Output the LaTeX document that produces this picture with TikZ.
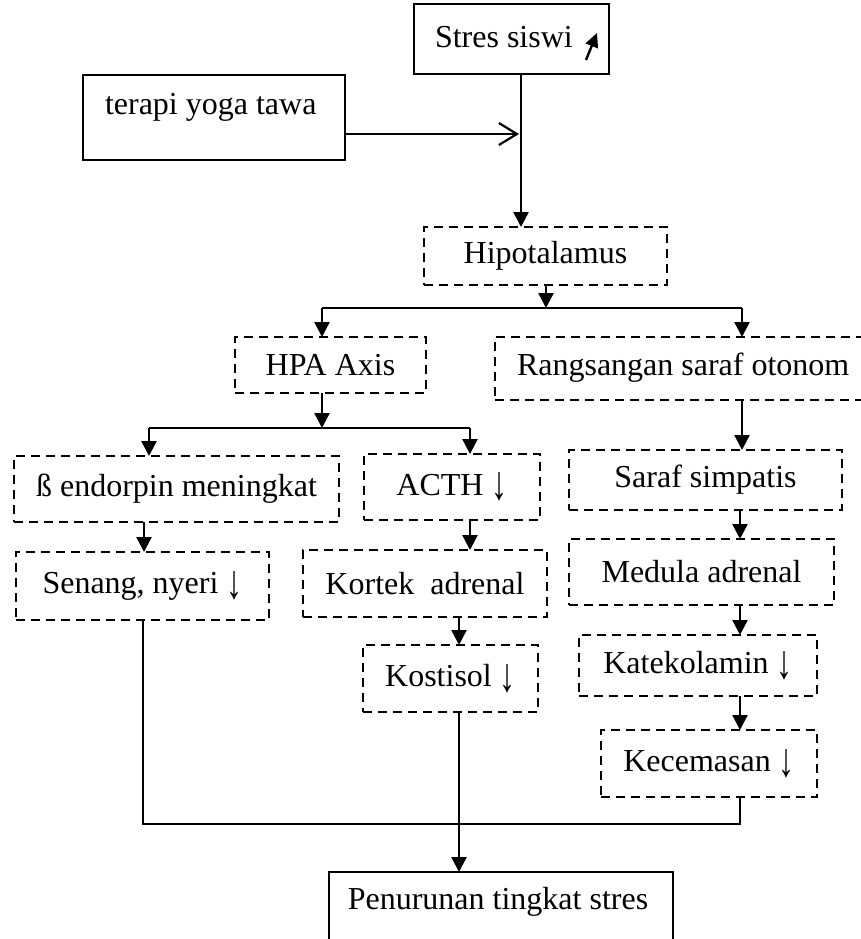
\documentclass[tikz,border=0pt]{standalone}
\usepackage{fontspec}
\setmainfont{Liberation Serif}
\usetikzlibrary{arrows.meta}
\newcommand{\darr}{\raisebox{-0.14em}{\scalebox{1}[1.5]{↓}}}
\begin{document}
\begin{tikzpicture}[x=1pt,y=-1pt,
  every node/.style={font=\fontsize{32}{38}\selectfont, inner sep=0pt, outer sep=0pt},
  sbox/.style={draw, line width=1.9pt},
  dbox/.style={draw, line width=2.8pt, dash pattern=on 9pt off 6pt},
  txt/.style={},
  arr/.style={line width=2.4pt, -{Triangle[width=15pt,length=15pt]}},
  link/.style={line width=1.9pt}
]
\useasboundingbox (0,0) rectangle (861,939);
% boxes
\node[sbox, minimum width=195pt, minimum height=70pt] (stres) at (511.5,39) {};
\node[txt, anchor=west] (strestxt) at (435,37) {Stres siswi};
\coordinate (upa) at (586,60);
\coordinate (upb) at (597,33);
\draw[line width=2.4pt, -{Triangle[width=13pt,length=14pt]}] (upa) -- (upb);

\node[sbox, minimum width=262pt, minimum height=85pt] (terapi) at (214,117.5) {};
\node[txt, anchor=west] (terapitxt) at (105,107) {terapi yoga tawa};

\node[dbox, minimum width=243pt, minimum height=58pt] (hipo) at (545.5,256) {Hipotalamus};
\node[dbox, minimum width=191pt, minimum height=56pt] (hpa) at (330.5,365) {HPA Axis};
\node[dbox, minimum width=371pt, minimum height=63pt] (rang) at (680.5,368.5) {};
\node[txt, anchor=west] (rangtxt) at (517,368) {Rangsangan saraf otonom};

\node[dbox, minimum width=325pt, minimum height=66pt] (beta) at (176.5,489) {ß endorpin meningkat};
\node[dbox, minimum width=176pt, minimum height=66pt] (acth) at (452,487) {ACTH \darr\hspace{12pt}};
\node[dbox, minimum width=253pt, minimum height=68pt] (senang) at (142.5,586) {Senang, nyeri \darr};
\node[dbox, minimum width=244pt, minimum height=67pt] (kortek) at (425,583.5) {Kortek\ \ adrenal};
\node[dbox, minimum width=175pt, minimum height=67pt] (kostisol) at (450.5,678.5) {Kostisol \darr};

\node[dbox, minimum width=273pt, minimum height=60pt] (saraf) at (705.5,480) {Saraf simpatis};
\node[dbox, minimum width=265pt, minimum height=66pt] (medula) at (701.5,572) {Medula adrenal};
\node[dbox, minimum width=238pt, minimum height=61pt] (kateko) at (698,665.5) {Katekolamin \darr};
\node[dbox, minimum width=216pt, minimum height=67pt] (kecem) at (709,763.5) {Kecemasan \darr};

\node[sbox, minimum width=344pt, minimum height=73pt] (penur) at (501,908.5) {};
\node[txt] (penurtxt) at (498,902) {Penurunan tingkat stres};

% connectors
\coordinate (sx) at (521,0);
\draw[arr] (stres.south -| sx) -- (hipo.north -| sx);
\coordinate (tj) at (519,134);
\draw[line width=2.2pt, -{Straight Barb[width=22pt,length=18pt]}] (terapi.east |- tj) -- (tj);

\coordinate (h1) at (546,308);
\coordinate (hl) at (322,308);
\coordinate (hr) at (742,308);
\draw[arr] (hipo.south -| h1) -- (h1);
\draw[link] (hl) -- (hr);
\draw[arr] (hl) -- (hpa.north -| hl);
\draw[arr] (hr) -- (rang.north -| hr);

\coordinate (a1) at (322,428);
\coordinate (al) at (149,428);
\coordinate (ar) at (470,428);
\draw[arr] (hpa.south -| a1) -- (a1);
\draw[link] (al) -- (ar);
\draw[arr] (al) -- (beta.north -| al);
\draw[arr] (ar) -- (acth.north -| ar);

\coordinate (bx) at (144,0);
\draw[arr] (beta.south -| bx) -- (senang.north -| bx);
\draw[arr] (acth.south -| ar) -- (kortek.north -| ar);
\coordinate (kx) at (459,0);
\draw[arr] (kortek.south -| kx) -- (kostisol.north -| kx);

\coordinate (rx) at (742,0);
\draw[arr] (rang.south -| rx) -- (saraf.north -| rx);
\coordinate (mx) at (740,0);
\draw[arr] (saraf.south -| mx) -- (medula.north -| mx);
\draw[arr] (medula.south -| mx) -- (kateko.north -| mx);
\draw[arr] (kateko.south -| mx) -- (kecem.north -| mx);

\coordinate (jl) at (143,824);
\coordinate (jr) at (740,824);
\draw[link] (senang.south -| jl) -- (jl) -- (jr) -- (kecem.south -| jr);
\draw[arr] (kostisol.south -| kx) -- (penur.north -| kx);
\end{tikzpicture}
\end{document}
